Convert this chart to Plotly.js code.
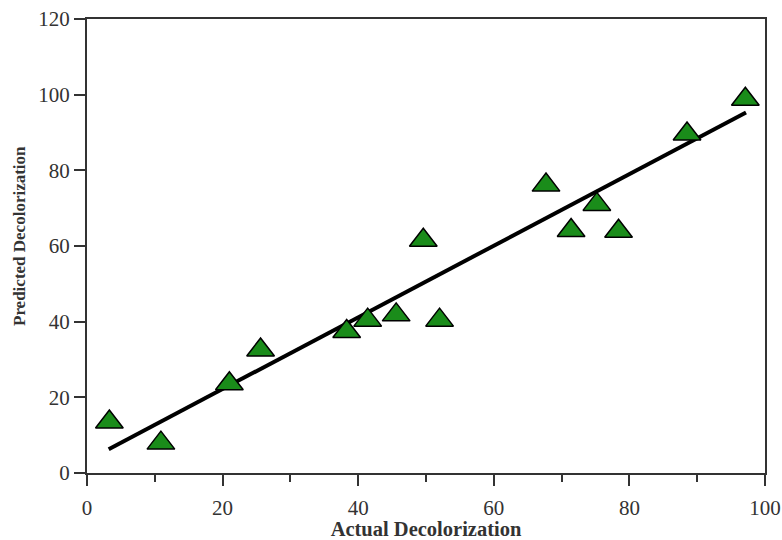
<!DOCTYPE html>
<html>
<head>
<meta charset="utf-8">
<script src="https://cdn.plot.ly/plotly-3.0.1.min.js"></script>
<style>html,body{margin:0;padding:0;background:#fff;}#chart{width:782px;height:540px;}</style>
</head>
<body>
<div id="chart"></div>
<script>
const actual = [3.3, 10.9, 21.0, 25.6, 38.3, 41.4, 45.6, 49.6, 52.0, 67.7, 71.4, 75.2, 78.4, 88.5, 97.1];
const predicted = [13.5, 7.9, 23.6, 32.5, 37.4, 40.4, 41.8, 61.5, 40.4, 76.1, 64.1, 71.0, 63.9, 89.6, 98.8];
const fitX = [3.2, 97.2];
const fitY = [6.3, 95.3];
const xTitle = 'Actual Decolorization';
const yTitle = 'Predicted Decolorization';

const serif = 'Liberation Serif, Times New Roman, serif';
const axisCommon = {
  showgrid: false, zeroline: false, showline: true, mirror: true,
  linecolor: '#333', linewidth: 2,
  ticks: 'outside', ticklen: 11, tickwidth: 2, tickcolor: '#333',
  tickfont: {family: serif, size: 21, color: '#333'},
  dtick: 20, tick0: 0
};

const data = [
  {x: fitX, y: fitY, mode: 'lines', line: {color: '#000', width: 4}, hoverinfo: 'skip', showlegend: false},
  {x: actual, y: predicted, mode: 'markers', showlegend: false,
   marker: {symbol: 'triangle-up', size: 24, color: '#1a8c1a', line: {color: '#000', width: 1.5}}}
];

const layout = {
  width: 782, height: 540,
  margin: {l: 87, r: 17, t: 19, b: 67},
  paper_bgcolor: '#fff', plot_bgcolor: '#fff',
  xaxis: Object.assign({}, axisCommon, {
    range: [0, 100],
    ticklabelstandoff: 4,
    minor: {dtick: 10, ticks: 'outside', ticklen: 7, tickwidth: 2, tickcolor: '#333'},
    title: {text: xTitle, standoff: 4, font: {family: serif, size: 20.5, color: '#333', weight: 'bold'}}
  }),
  yaxis: Object.assign({}, axisCommon, {
    range: [0, 120]
  }),
  annotations: [{
    text: yTitle, xref: 'paper', yref: 'paper', x: -0.1003, y: 0.522,
    xanchor: 'center', yanchor: 'middle', textangle: -90, showarrow: false,
    font: {family: serif, size: 17, color: '#333', weight: 'bold'}
  }]
};

Plotly.newPlot('chart', data, layout, {displayModeBar: false, staticPlot: true});
</script>
</body>
</html>
